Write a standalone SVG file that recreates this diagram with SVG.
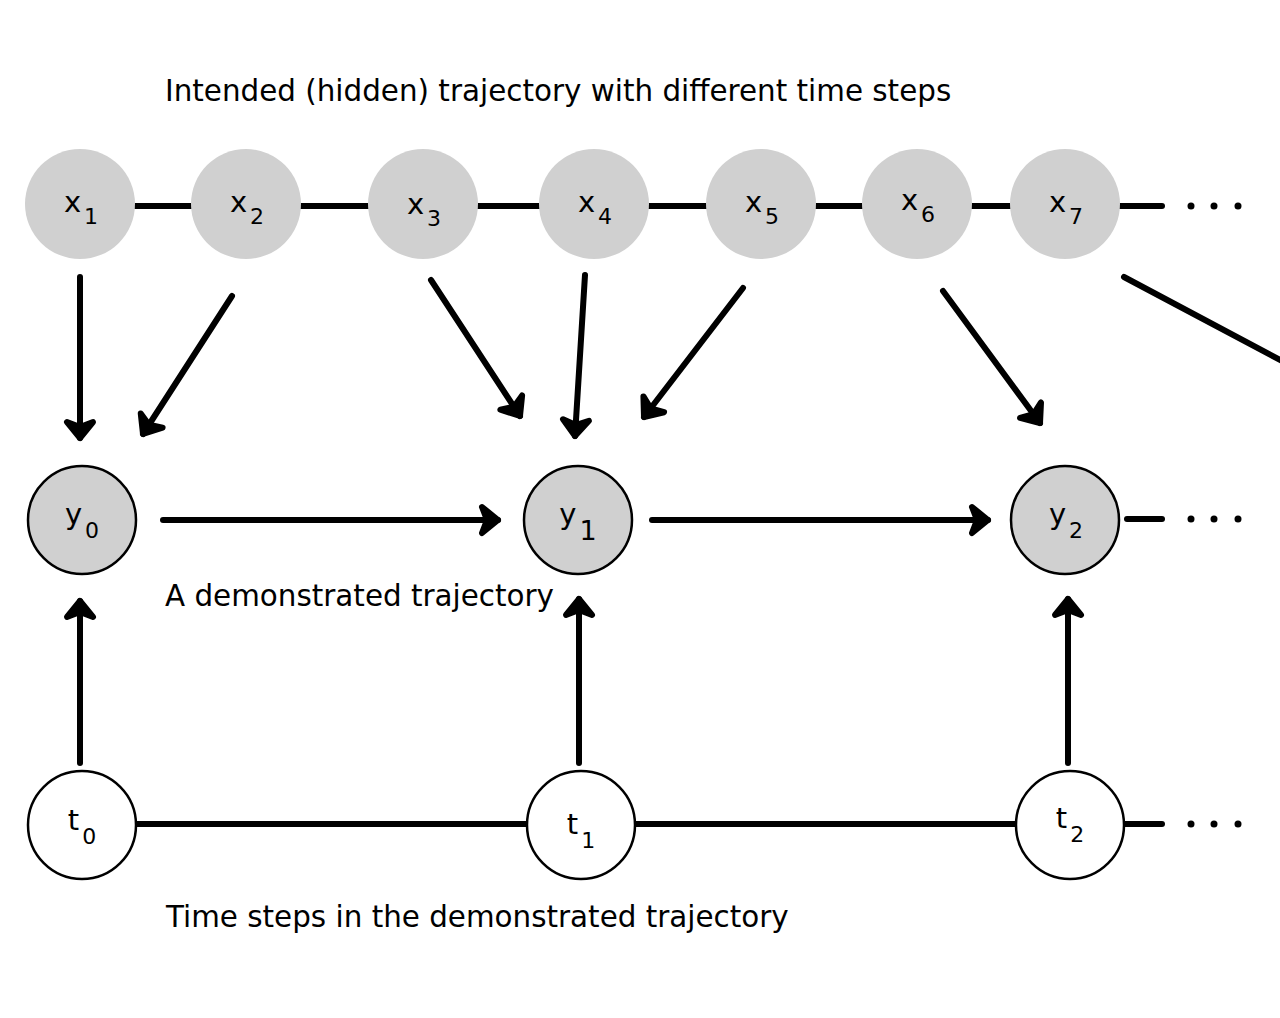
<svg xmlns="http://www.w3.org/2000/svg" width="1280" height="1018" viewBox="0 0 1280 1018">
<style>
text{font-family:"DejaVu Sans",sans-serif;fill:#000}
.lbl{font-size:29.4px}
.nl{font-size:29px;text-anchor:middle}
.sub{font-size:22px}
.hx{fill:#d0d0d0}
.ob{fill:#d0d0d0;stroke:#000;stroke-width:2.5}
.tn{fill:#fff;stroke:#000;stroke-width:2.5}
.ln{stroke:#000;stroke-width:6;stroke-linecap:round;fill:none}
.ar{marker-end:url(#ah)}
</style>
<defs>
<marker id="ah" markerUnits="userSpaceOnUse" orient="auto" markerWidth="40" markerHeight="40" refX="0" refY="0" viewBox="-20 -20 40 40" overflow="visible">
<path d="M-16,-13 L0,0 L-16,13 L-11,0 Z" fill="#000" stroke="#000" stroke-width="6" stroke-linecap="round" stroke-linejoin="round"/>
</marker>
</defs>
<rect width="1280" height="1018" fill="#fff"/>
<text class="lbl" x="165" y="101">Intended (hidden) trajectory with different time steps</text>
<text class="lbl" x="165" y="606">A demonstrated trajectory</text>
<text class="lbl" x="166" y="927">Time steps in the demonstrated trajectory</text>
<g id="connectors">
<line class="ln" x1="135" y1="206" x2="1162" y2="206" stroke-linecap="butt"/>
<line class="ln" x1="136" y1="824" x2="1162" y2="824" stroke-linecap="butt"/>
<line class="ln" x1="1127" y1="519" x2="1162" y2="519" stroke-linecap="butt"/>
<line class="ln ar" x1="80" y1="277" x2="80" y2="438"/>
<line class="ln ar" x1="232" y1="296" x2="143" y2="434"/>
<line class="ln ar" x1="431" y1="280" x2="520" y2="416"/>
<line class="ln ar" x1="585" y1="275" x2="575" y2="436"/>
<line class="ln ar" x1="743" y1="288" x2="644" y2="417"/>
<line class="ln ar" x1="943" y1="291" x2="1040" y2="423"/>
<line class="ln" x1="1124" y1="277" x2="1284" y2="362"/>
<line class="ln ar" x1="163" y1="520" x2="498" y2="520"/>
<line class="ln ar" x1="652" y1="520" x2="988" y2="520"/>
<line class="ln ar" x1="80" y1="763" x2="80" y2="601"/>
<line class="ln ar" x1="579" y1="763" x2="579" y2="599"/>
<line class="ln ar" x1="1068" y1="763" x2="1068" y2="599"/>
<g fill="#000">
<circle cx="1191" cy="206" r="3.5"/><circle cx="1214" cy="206" r="3.5"/><circle cx="1238" cy="206" r="3.5"/>
<circle cx="1191" cy="519" r="3.5"/><circle cx="1214" cy="519" r="3.5"/><circle cx="1238" cy="519" r="3.5"/>
<circle cx="1191" cy="824" r="3.5"/><circle cx="1214" cy="824" r="3.5"/><circle cx="1238" cy="824" r="3.5"/>
</g>
</g>
<g id="x1"><circle class="hx" cx="80" cy="204" r="55"/><text x="81" y="212" class="nl">x<tspan class="sub" dx="3" dy="12">1</tspan></text></g>
<g id="x2"><circle class="hx" cx="246" cy="204" r="55"/><text x="247" y="212" class="nl">x<tspan class="sub" dx="3" dy="12">2</tspan></text></g>
<g id="x3"><circle class="hx" cx="423" cy="204" r="55"/><text x="424" y="214" class="nl">x<tspan class="sub" dx="3" dy="12">3</tspan></text></g>
<g id="x4"><circle class="hx" cx="594" cy="204" r="55"/><text x="595" y="212" class="nl">x<tspan class="sub" dx="3" dy="12">4</tspan></text></g>
<g id="x5"><circle class="hx" cx="761" cy="204" r="55"/><text x="762" y="212" class="nl">x<tspan class="sub" dx="3" dy="12">5</tspan></text></g>
<g id="x6"><circle class="hx" cx="917" cy="204" r="55"/><text x="918" y="210" class="nl">x<tspan class="sub" dx="3" dy="12">6</tspan></text></g>
<g id="x7"><circle class="hx" cx="1065" cy="204" r="55"/><text x="1066" y="212" class="nl">x<tspan class="sub" dx="3" dy="12">7</tspan></text></g>
<g id="y0"><circle class="ob" cx="82" cy="520" r="54"/><text x="82" y="524" class="nl">y<tspan class="sub" dx="3" dy="14">0</tspan></text></g>
<g id="y1"><circle class="ob" cx="578" cy="520" r="54"/><text x="578" y="524" class="nl">y<tspan dx="3" dy="16" style="font-size:27px">1</tspan></text></g>
<g id="y2"><circle class="ob" cx="1065" cy="520" r="54"/><text x="1066" y="524" class="nl">y<tspan class="sub" dx="3" dy="14">2</tspan></text></g>
<g id="t0"><circle class="tn" cx="82" cy="825" r="54"/><text x="82" y="830" class="nl">t<tspan class="sub" dx="3" dy="14">0</tspan></text></g>
<g id="t1"><circle class="tn" cx="581" cy="825" r="54"/><text x="581" y="834" class="nl">t<tspan class="sub" dx="3" dy="14">1</tspan></text></g>
<g id="t2"><circle class="tn" cx="1070" cy="825" r="54"/><text x="1070" y="828" class="nl">t<tspan class="sub" dx="3" dy="14">2</tspan></text></g>
</svg>
